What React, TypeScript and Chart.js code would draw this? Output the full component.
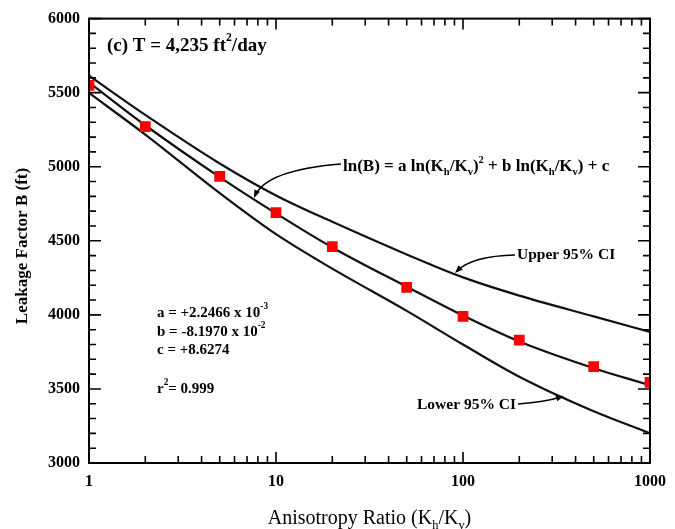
import React, { useEffect, useRef } from 'react';
import { Chart, registerables } from 'chart.js';

Chart.register(...registerables);

// ---- data ----
const ratios = [1, 2, 5, 10, 20, 50, 100, 200, 500, 1000];
const measuredB = [5550, 5270, 4935, 4690, 4460, 4185, 3990, 3830, 3650, 3545];
const fitB = [5570, 5280, 4930, 4685, 4455, 4190, 3995, 3820, 3640, 3525];
const upperB = [5615, 5350, 5022, 4806, 4628, 4408, 4253, 4130, 3990, 3885];
const lowerB = [5498, 5217, 4822, 4545, 4312, 4027, 3800, 3582, 3349, 3201];
const xTickLabels = [1, 10, 100, 1000];
const yMin = 3000;
const yMax = 6000;
const yStep = 500;
const yMinorStep = 100;

const yTitle = 'Leakage Factor B (ft)';
const xTitle = [
  { t: 'Anisotropy Ratio (K' },
  { t: 'h', s: 'sub' },
  { t: '/K' },
  { t: 'v', s: 'sub' },
  { t: ')' },
];
const panelTitle = [{ t: '(c) T = 4,235 ft' }, { t: '2', s: 'sup' }, { t: '/day' }];
const eqLabel = [
  { t: 'ln(B) = a ln(K' },
  { t: 'h', s: 'sub' },
  { t: '/K' },
  { t: 'v', s: 'sub' },
  { t: ')' },
  { t: '2', s: 'sup' },
  { t: ' + b ln(K' },
  { t: 'h', s: 'sub' },
  { t: '/K' },
  { t: 'v', s: 'sub' },
  { t: ') + c' },
];
const coefA = [{ t: 'a = +2.2466 x 10' }, { t: '-3', s: 'sup' }];
const coefB = [{ t: 'b = -8.1970 x 10' }, { t: '-2', s: 'sup' }];
const coefC = [{ t: 'c = +8.6274' }];
const rSq = [{ t: 'r' }, { t: '2', s: 'sup' }, { t: '= 0.999' }];
const upperLabel = [{ t: 'Upper 95% CI' }];
const lowerLabel = [{ t: 'Lower 95% CI' }];

const SERIF = '"Liberation Serif", "Times New Roman", Times, serif';

type Seg = { t: string; s?: string };

function drawRich(ctx: CanvasRenderingContext2D, segs: Seg[], x: number, y: number, size: number, weight: string, align: string = 'left') {
  ctx.textBaseline = 'middle';
  ctx.textAlign = 'left';
  const widths: number[] = [];
  let total = 0;
  for (const seg of segs) {
    const fs = seg.s ? size * 0.62 : size;
    ctx.font = `${weight} ${fs}px ${SERIF}`;
    const w = ctx.measureText(seg.t).width;
    widths.push(w);
    total += w;
  }
  let cx = align === 'center' ? x - total / 2 : x;
  segs.forEach((seg, i) => {
    const fs = seg.s ? size * 0.62 : size;
    ctx.font = `${weight} ${fs}px ${SERIF}`;
    const dy = seg.s === 'sub' ? size * 0.32 : seg.s === 'sup' ? -size * 0.4 : 0;
    ctx.fillText(seg.t, cx, y + dy);
    cx += widths[i];
  });
}

function arrowHead(ctx: CanvasRenderingContext2D, x: number, y: number, dx: number, dy: number) {
  const len = Math.hypot(dx, dy);
  const ux = dx / len;
  const uy = dy / len;
  const L = 8;
  const W = 3;
  ctx.beginPath();
  ctx.moveTo(x, y);
  ctx.lineTo(x - ux * L - uy * W, y - uy * L + ux * W);
  ctx.lineTo(x - ux * L + uy * W, y - uy * L - ux * W);
  ctx.closePath();
  ctx.fill();
}

const decorPlugin = {
  id: 'decor',
  afterDatasetsDraw(chart: any) {
    const { ctx, chartArea: a, scales } = chart;
    const xs = scales.x;
    const ys = scales.y;
    ctx.save();
    ctx.strokeStyle = '#000';
    ctx.fillStyle = '#000';

    // frame
    ctx.lineWidth = 2;
    ctx.strokeRect(a.left, a.top, a.right - a.left, a.bottom - a.top);

    // inward ticks
    ctx.lineWidth = 1.6;
    ctx.beginPath();
    for (let v = yMin; v <= yMax; v += yMinorStep) {
      const y = ys.getPixelForValue(v);
      const len = v % yStep === 0 ? 12 : 7;
      ctx.moveTo(a.left, y);
      ctx.lineTo(a.left + len, y);
      ctx.moveTo(a.right, y);
      ctx.lineTo(a.right - len, y);
    }
    for (let d = 1; d < 1000; d *= 10) {
      for (let m = 1; m <= 10; m++) {
        const x = xs.getPixelForValue(d * m);
        const len = m === 1 || m === 10 ? 11 : 7;
        ctx.moveTo(x, a.bottom);
        ctx.lineTo(x, a.bottom - len);
        ctx.moveTo(x, a.top);
        ctx.lineTo(x, a.top + len);
      }
    }
    ctx.stroke();

    // arrows
    ctx.lineWidth = 1.6;
    ctx.beginPath();
    ctx.moveTo(341, 164);
    ctx.quadraticCurveTo(266, 170, 255, 196);
    ctx.stroke();
    arrowHead(ctx, 254, 198, 255 - 266, 196 - 170);
    ctx.beginPath();
    ctx.moveTo(515, 255);
    ctx.quadraticCurveTo(472, 256, 457, 271);
    ctx.stroke();
    arrowHead(ctx, 455, 273, 457 - 472, 271 - 256);
    ctx.beginPath();
    ctx.moveTo(518, 404);
    ctx.quadraticCurveTo(545, 402, 561, 397);
    ctx.stroke();
    arrowHead(ctx, 564, 396, 561 - 545, 397 - 402);

    // annotations
    drawRich(ctx, panelTitle, 107, 46, 19, 'bold');
    drawRich(ctx, eqLabel, 343, 167, 17, 'bold');
    drawRich(ctx, upperLabel, 517, 255, 15.5, 'bold');
    drawRich(ctx, lowerLabel, 417, 405, 15.5, 'bold');
    drawRich(ctx, coefA, 157, 313, 15, 'bold');
    drawRich(ctx, coefB, 157, 332, 15, 'bold');
    drawRich(ctx, coefC, 157, 350, 15, 'bold');
    drawRich(ctx, rSq, 157, 389, 15, 'bold');

    // axis titles
    drawRich(ctx, xTitle, (a.left + a.right) / 2, 519, 20, 'normal', 'center');
    ctx.save();
    ctx.translate(23, 246);
    ctx.rotate(-Math.PI / 2);
    ctx.textAlign = 'center';
    ctx.textBaseline = 'middle';
    ctx.font = `bold 17px ${SERIF}`;
    ctx.fillText(yTitle, 0, 0);
    ctx.restore();

    ctx.restore();
  },
};

export default function App() {
  const canvasRef = useRef<HTMLCanvasElement | null>(null);

  useEffect(() => {
    document.body.style.margin = '0';
    const canvas = canvasRef.current;
    if (!canvas) return;
    const toPts = (vals: number[]) => ratios.map((r, i) => ({ x: r, y: vals[i] }));
    const lineStyle = {
      type: 'line' as const,
      borderColor: '#111',
      borderWidth: 2.2,
      pointRadius: 0,
      fill: false,
      cubicInterpolationMode: 'monotone' as const,
      clip: 0,
    };
    const chart = new Chart(canvas, {
      type: 'scatter',
      data: {
        datasets: [
          { ...lineStyle, label: 'Upper 95% CI', data: toPts(upperB), order: 2 },
          { ...lineStyle, label: 'Fit', data: toPts(fitB), order: 2 },
          { ...lineStyle, label: 'Lower 95% CI', data: toPts(lowerB), order: 2 },
          {
            type: 'scatter',
            label: 'Measured',
            data: toPts(measuredB),
            pointStyle: 'rect',
            pointRadius: 7.6,
            pointBackgroundColor: '#ff0000',
            pointBorderWidth: 0,
            borderWidth: 0,
            clip: 0,
            order: 1,
          } as any,
        ],
      },
      options: {
        responsive: false,
        animation: false,
        devicePixelRatio: 1,
        layout: { padding: { top: 15, right: 22, left: 0, bottom: 0 } },
        plugins: { legend: { display: false }, tooltip: { enabled: false } },
        scales: {
          x: {
            type: 'logarithmic',
            min: 1,
            max: 1000,
            grid: { display: false, drawTicks: false },
            border: { display: false },
            ticks: {
              autoSkip: false,
              maxRotation: 0,
              padding: 9,
              color: '#000',
              font: { family: SERIF, size: 16, weight: 'bold' },
              callback: (v: any) => (xTickLabels.includes(Number(v)) ? String(v) : ''),
            },
            afterFit: (s: any) => {
              s.height = 66;
            },
          },
          y: {
            type: 'linear',
            min: yMin,
            max: yMax,
            grid: { display: false, drawTicks: false },
            border: { display: false },
            ticks: {
              stepSize: yStep,
              padding: 9,
              color: '#000',
              font: { family: SERIF, size: 16, weight: 'bold' },
              callback: (v: any) => String(v),
            },
            afterFit: (s: any) => {
              s.width = 89;
            },
          },
        },
      } as any,
      plugins: [decorPlugin],
    });
    return () => chart.destroy();
  }, []);

  return (
    <div style={{ width: 675, height: 529, position: 'relative', background: '#fff' }}>
      <canvas ref={canvasRef} width={675} height={529} style={{ display: 'block' }} />
    </div>
  );
}
